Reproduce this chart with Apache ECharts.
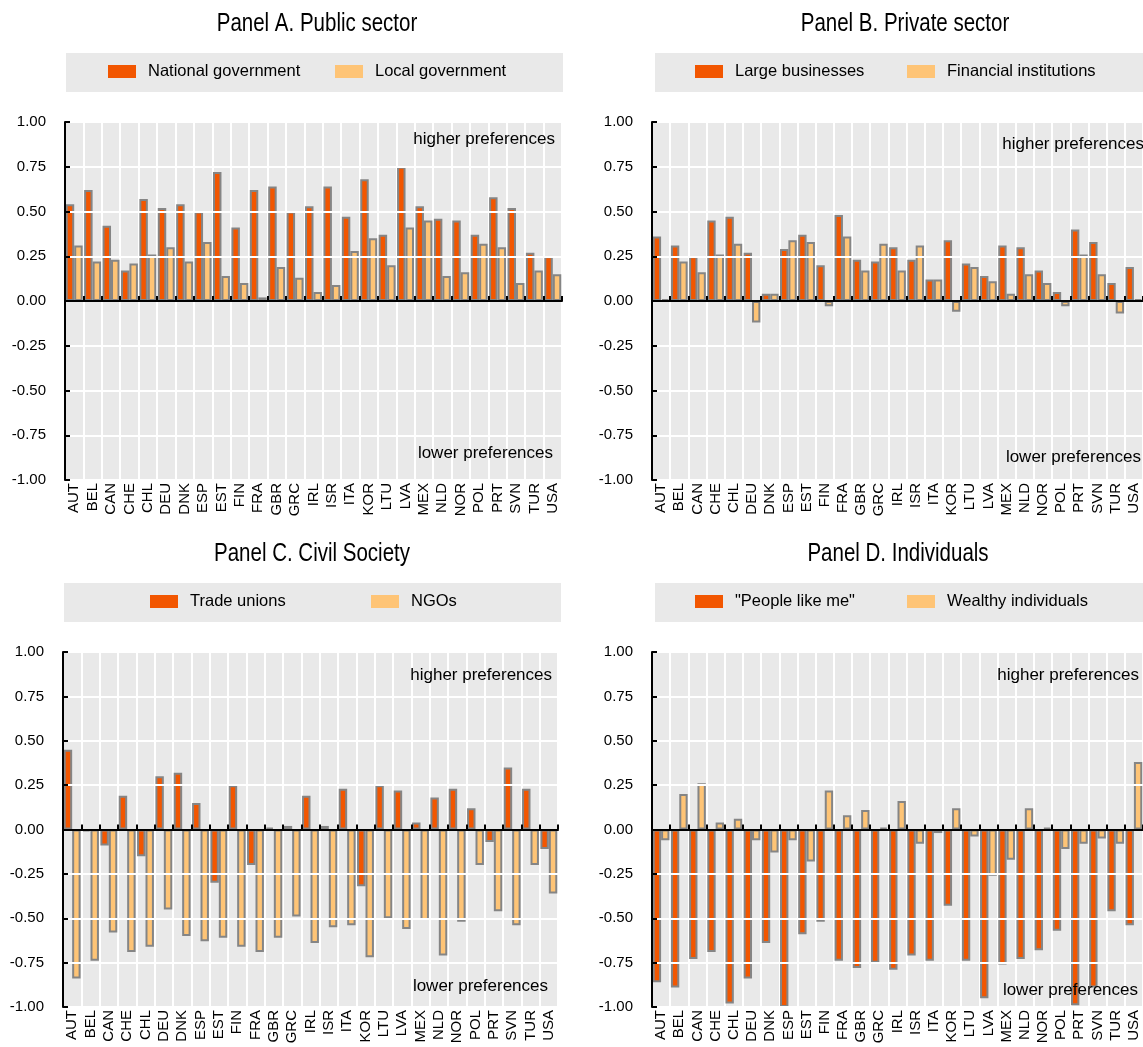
<!DOCTYPE html>
<html>
<head>
<meta charset="utf-8">
<script src="https://cdn.jsdelivr.net/npm/echarts@6/dist/echarts.min.js"></script>
<style>
  html, body { margin: 0; padding: 0; background: #fff; }
  #chart { width: 1143px; height: 1047px; }
</style>
</head>
<body>
<div id="chart"></div>
<script>
// Country codes shared by all four panels
const countries = ['AUT','BEL','CAN','CHE','CHL','DEU','DNK','ESP','EST','FIN','FRA','GBR','GRC','IRL','ISR','ITA','KOR','LTU','LVA','MEX','NLD','NOR','POL','PRT','SVN','TUR','USA'];

// Panel A. Public sector
const nationalGovernment = [0.54,0.62,0.42,0.17,0.57,0.52,0.54,0.50,0.72,0.41,0.62,0.64,0.50,0.53,0.64,0.47,0.68,0.37,0.75,0.53,0.46,0.45,0.37,0.58,0.52,0.27,0.25];
const localGovernment    = [0.31,0.22,0.23,0.21,0.26,0.30,0.22,0.33,0.14,0.10,0.02,0.19,0.13,0.05,0.09,0.28,0.35,0.20,0.41,0.45,0.14,0.16,0.32,0.30,0.10,0.17,0.15];

// Panel B. Private sector
const largeBusinesses        = [0.36,0.31,0.25,0.45,0.47,0.27,0.04,0.29,0.37,0.20,0.48,0.23,0.22,0.30,0.23,0.12,0.34,0.21,0.14,0.31,0.30,0.17,0.05,0.40,0.33,0.10,0.19];
const financialInstitutions  = [0.01,0.22,0.16,0.26,0.32,-0.12,0.04,0.34,0.33,-0.03,0.36,0.17,0.32,0.17,0.31,0.12,-0.06,0.19,0.11,0.04,0.15,0.10,-0.03,0.26,0.15,-0.07,0.01];

// Panel C. Civil Society
const tradeUnions = [0.45,-0.01,-0.09,0.19,-0.15,0.30,0.32,0.15,-0.30,0.25,-0.20,0.01,0.02,0.19,0.02,0.23,-0.32,0.25,0.22,0.04,0.18,0.23,0.12,-0.07,0.35,0.23,-0.11];
const ngos        = [-0.84,-0.74,-0.58,-0.69,-0.66,-0.45,-0.60,-0.63,-0.61,-0.66,-0.69,-0.61,-0.49,-0.64,-0.55,-0.54,-0.72,-0.50,-0.56,-0.51,-0.71,-0.52,-0.20,-0.46,-0.54,-0.20,-0.36];

// Panel D. Individuals
const peopleLikeMe       = [-0.86,-0.89,-0.73,-0.69,-0.98,-0.84,-0.64,-1.00,-0.59,-0.52,-0.74,-0.78,-0.75,-0.79,-0.71,-0.74,-0.43,-0.74,-0.95,-0.76,-0.73,-0.68,-0.57,-0.99,-0.89,-0.46,-0.54];
const wealthyIndividuals = [-0.06,0.20,0.26,0.04,0.06,-0.06,-0.13,-0.06,-0.18,0.22,0.08,0.11,0.01,0.16,-0.08,-0.02,0.12,-0.04,-0.26,-0.17,0.12,0.01,-0.11,-0.08,-0.05,-0.08,0.38];

// Value axis ticks
const yMin = -1, yMax = 1, yStep = 0.25;

const DARK = '#f25600';
const LIGHT = '#fec476';
const PANEL_BG = '#e9e9e9';
const FONT = 'Liberation Sans, Arial, sans-serif';

const panels = [
  { title: 'Panel A. Public sector', titleX: 317, titleY: 24,
    grid: { left: 65, top: 122, width: 497, height: 358 },
    box: { x: 66, y: 53, w: 497, h: 39 },
    names: ['National government', 'Local government'], legendX: [108, 335],
    values: [nationalGovernment, localGovernment],
    hi: { x: 555, y: 139 }, lo: { x: 553, y: 453 } },
  { title: 'Panel B. Private sector', titleX: 905, titleY: 24,
    grid: { left: 652, top: 122, width: 493, height: 358 },
    box: { x: 655, y: 53, w: 490, h: 39 },
    names: ['Large businesses', 'Financial institutions'], legendX: [695, 907],
    values: [largeBusinesses, financialInstitutions],
    hi: { x: 1144, y: 144 }, lo: { x: 1141, y: 457 } },
  { title: 'Panel C. Civil Society', titleX: 312, titleY: 554,
    grid: { left: 63, top: 652, width: 495, height: 355 },
    box: { x: 64, y: 583, w: 497, h: 39 },
    names: ['Trade unions', 'NGOs'], legendX: [150, 371],
    values: [tradeUnions, ngos],
    hi: { x: 552, y: 675 }, lo: { x: 548, y: 986 } },
  { title: 'Panel D. Individuals', titleX: 898, titleY: 554,
    grid: { left: 652, top: 652, width: 493, height: 355 },
    box: { x: 655, y: 583, w: 490, h: 39 },
    names: ['"People like me"', 'Wealthy individuals'], legendX: [695, 907],
    values: [peopleLikeMe, wealthyIndividuals],
    hi: { x: 1139, y: 675 }, lo: { x: 1138, y: 990 } }
];

const option = {
  animation: false,
  backgroundColor: '#ffffff',
  legend: [], grid: [], xAxis: [], yAxis: [], series: [], graphic: []
};

panels.forEach((p, i) => {
  // panel heading, set in a condensed face
  option.graphic.push({
    type: 'text', x: p.titleX, y: p.titleY, scaleX: 0.82, z: 100,
    style: { text: p.title, x: 0, y: 0, textAlign: 'center', textVerticalAlign: 'middle',
             fill: '#000', font: '25px ' + FONT }
  });

  // legend strip
  option.graphic.push({
    type: 'rect', z: 0,
    shape: { x: p.box.x, y: p.box.y, width: p.box.w, height: p.box.h },
    style: { fill: PANEL_BG }
  });

  option.grid.push(Object.assign({
    show: true, backgroundColor: PANEL_BG, borderWidth: 0, containLabel: false
  }, p.grid));

  // value axis
  option.yAxis.push({
    type: 'value', gridIndex: i, min: yMin, max: yMax, interval: yStep,
    axisLine: { show: true, lineStyle: { color: '#000', width: 2 } },
    axisTick: { show: true, inside: true, length: 5, lineStyle: { color: '#000', width: 2 } },
    axisLabel: { margin: 19, color: '#000', fontFamily: FONT, fontSize: 15,
                 formatter: v => v.toFixed(2) },
    splitLine: { show: true, lineStyle: { color: '#ffffff', width: 2 } },
    z: 10
  });

  // category axis carrying the country labels at the bottom edge
  option.xAxis.push({
    type: 'category', gridIndex: i, data: countries, position: 'bottom',
    axisLine: { show: false, onZero: false },
    axisTick: { show: false },
    axisLabel: { interval: 0, rotate: 90, margin: 3, color: '#000',
                 fontFamily: FONT, fontSize: 15 },
    splitLine: { show: true, interval: 0, lineStyle: { color: '#ffffff', width: 2 } }
  });

  // zero line with inner tick marks between countries
  option.xAxis.push({
    type: 'category', gridIndex: i, data: countries, position: 'bottom',
    axisLine: { show: true, onZero: true, onZeroAxisIndex: i,
                lineStyle: { color: '#000', width: 2 } },
    axisTick: { show: true, inside: true, length: 5, interval: 0,
                lineStyle: { color: '#000', width: 2 } },
    axisLabel: { show: false },
    splitLine: { show: false },
    z: 10
  });

  [DARK, LIGHT].forEach((color, k) => {
    option.series.push({
      type: 'bar', name: p.names[k],
      xAxisIndex: 2 * i, yAxisIndex: i,
      data: p.values[k],
      barGap: '0%', barCategoryGap: '8%',
      itemStyle: { color: color, borderColor: '#858585', borderWidth: 2 }
    });

    option.legend.push({
      data: [p.names[k]], left: p.legendX[k], top: p.box.y + 10, padding: 0,
      icon: 'rect', itemWidth: 28, itemHeight: 13,
      itemStyle: { borderWidth: 0 },
      textStyle: { fontFamily: FONT, fontSize: 16.5, color: '#000', padding: [0, 0, 0, 7] },
      selectedMode: false
    });
  });

  option.graphic.push(
    { type: 'text', z: 100, style: { text: 'higher preferences', x: p.hi.x, y: p.hi.y,
      textAlign: 'right', textVerticalAlign: 'middle', fill: '#000', font: '17px ' + FONT } },
    { type: 'text', z: 100, style: { text: 'lower preferences', x: p.lo.x, y: p.lo.y,
      textAlign: 'right', textVerticalAlign: 'middle', fill: '#000', font: '17px ' + FONT } }
  );
});

const chart = echarts.init(document.getElementById('chart'), null, { renderer: 'canvas' });
chart.setOption(option);
</script>
</body>
</html>
